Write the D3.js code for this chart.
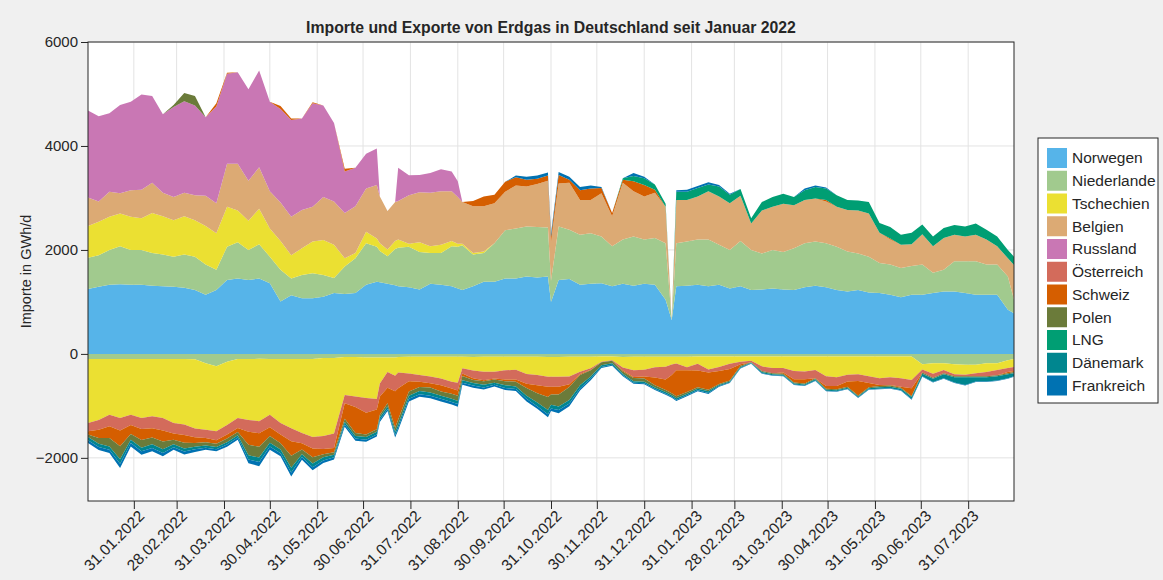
<!DOCTYPE html>
<html>
<head>
<meta charset="utf-8">
<script src="https://cdn.jsdelivr.net/npm/d3@7"></script>
<style>
  body { margin: 0; background: #f0f0f0; }
  svg text { font-family: "Liberation Sans", Arial, sans-serif; fill: #262626; }
</style>
</head>
<body>
<svg id="chart" width="1163" height="580"></svg>
<script>
// dates (weekly, plus a few extra days for sharp drops)
var dates = [
  "2022-01-01","2022-01-08","2022-01-15","2022-01-22","2022-01-29","2022-02-05","2022-02-12","2022-02-19","2022-02-26","2022-03-05",
  "2022-03-12","2022-03-19","2022-03-26","2022-04-02","2022-04-09","2022-04-16","2022-04-23","2022-04-30","2022-05-07","2022-05-14",
  "2022-05-21","2022-05-28","2022-06-04","2022-06-11","2022-06-18","2022-06-25","2022-07-02","2022-07-09","2022-07-11","2022-07-16",
  "2022-07-21","2022-07-23","2022-07-30","2022-08-06","2022-08-13","2022-08-20","2022-08-27","2022-08-31","2022-09-03","2022-09-10",
  "2022-09-17","2022-09-24","2022-10-01","2022-10-08","2022-10-15","2022-10-22","2022-10-29","2022-10-31","2022-11-05","2022-11-12",
  "2022-11-19","2022-11-26","2022-12-03","2022-12-10","2022-12-17","2022-12-24","2022-12-31","2023-01-07","2023-01-14","2023-01-18",
  "2023-01-21","2023-01-28","2023-02-04","2023-02-11","2023-02-18","2023-02-25","2023-03-04","2023-03-11","2023-03-18","2023-03-25",
  "2023-04-01","2023-04-08","2023-04-15","2023-04-22","2023-04-29","2023-05-06","2023-05-13","2023-05-20","2023-05-27","2023-06-03",
  "2023-06-10","2023-06-17","2023-06-24","2023-07-01","2023-07-08","2023-07-15","2023-07-22","2023-07-29","2023-08-05","2023-08-12",
  "2023-08-19","2023-08-26","2023-08-30"]

var countries = ["Norwegen","Niederlande","Tschechien","Belgien","Russland","Österreich","Schweiz","Polen","LNG","Dänemark","Frankreich"]
var colors = ["#56b4e9","#a1ca8e","#ebe032","#dcaa74","#c977b4","#d36b5b","#d55e00","#6b7b3a","#009e73","#00868f","#0072b2"]

// imports in GWh/d
var impNorwegen = [
  1250,1290,1330,1340,1330,1330,1310,1300,1290,1270, 1230,1140,1230,1420,1450,1420,1450,1360,1010,1130,
  1070,1070,1100,1170,1150,1170,1330,1390,1380,1350, 1320,1300,1280,1240,1350,1330,1300,1260,1230,1300,
  1390,1390,1450,1450,1490,1470,1490,1000,1420,1440, 1330,1350,1360,1300,1350,1310,1350,1330,1040,650,
  1300,1310,1330,1300,1330,1260,1300,1230,1240,1260, 1240,1230,1280,1310,1280,1230,1200,1230,1180,1170,
  1140,1090,1140,1140,1170,1200,1200,1170,1140,1140, 1140,850,780]
var impNiederlande = [
  600,610,670,730,670,670,630,610,580,640, 640,580,390,640,700,580,660,510,610,320,
  450,480,420,290,530,670,800,670,600,530, 700,740,780,720,590,610,770,800,860,610,
  550,740,930,960,960,970,940,400,1030,950, 960,970,900,770,850,950,850,900,1090,0,
  830,850,870,900,770,740,870,770,690,740, 720,800,850,850,850,830,770,700,690,580,
  580,560,550,580,390,420,580,610,640,580, 580,640,260]
var impTschechien = [
  610,640,640,630,640,610,770,740,700,740, 700,740,700,770,610,560,680,540,550,450,
  510,610,670,640,160,100,220,160,150,130, 150,160,60,190,130,160,100,60,30,30,
  30,0,0,0,0,0,0,0,0,0, 0,0,0,0,0,0,0,0,0,0,
  0,0,0,0,0,0,0,0,0,0, 0,0,0,0,0,0,0,0,0,0,
  0,0,0,0,0,0,0,0,0,0, 0,0,0]
var impBelgien = [
  550,390,480,390,510,550,580,450,450,450, 480,580,580,830,900,770,800,720,740,740,
  740,670,830,830,870,900,830,1030,900,740, 750,740,930,960,1030,1030,960,900,800,900,
  870,770,740,830,770,830,900,750,830,900, 670,640,830,580,1090,870,830,870,700,0,
  830,800,830,930,930,900,870,510,830,830, 930,830,830,830,800,770,800,830,830,580,
  480,450,420,580,510,610,510,480,510,480, 350,350,670]
var impRussland = [
  1670,1640,1510,1700,1700,1830,1670,1510,1730,1760, 1730,1510,1860,1730,1760,1760,1860,1720,1800,1860,
  1760,1990,1760,1510,800,740,670,700,0,0, 0,640,385,330,380,420,380,300,0,0,
  0,0,0,0,0,0,0,0,0,0, 0,0,0,0,0,0,0,0,0,0,
  0,0,0,0,0,0,0,0,0,0, 0,0,0,0,0,0,0,0,0,0,
  0,0,0,0,0,0,0,0,0,0, 0,0,0]
var impSchweiz = [
  0,0,0,0,0,0,0,0,0,0, 0,0,60,20,0,0,0,0,60,30,
  0,20,0,0,50,0,0,0,0,0, 0,0,0,0,0,0,0,0,0,100,
  190,160,190,160,130,100,100,100,160,60, 190,220,100,60,60,190,220,60,0,0,
  0,0,0,0,0,0,0,0,0,0, 0,0,0,0,30,0,0,0,0,0,
  20,0,0,0,0,0,0,0,0,0, 0,0,0]
var impPolen = [
  0,0,0,0,0,0,0,0,40,160, 180,0,0,0,0,0,0,0,0,0,
  0,0,0,0,0,0,0,0,0,0, 0,0,0,0,0,0,0,0,0,0,
  0,0,0,0,0,0,0,0,0,0, 0,0,0,0,0,0,0,0,0,0,
  0,0,0,0,0,0,0,0,0,0, 0,0,0,0,0,0,0,0,0,0,
  0,0,0,0,0,0,0,0,0,0, 0,0,0]
var impLNG = [
  0,0,0,0,0,0,0,0,0,0, 0,0,0,0,0,0,0,0,0,0,
  0,0,0,0,0,0,0,0,0,0, 0,0,0,0,0,0,0,0,0,0,
  0,0,0,0,0,0,0,0,0,0, 0,0,0,0,30,100,130,100,60,0,
  160,160,160,130,190,160,130,100,160,190, 190,160,190,220,220,220,190,190,220,190,
  220,190,220,190,190,190,190,190,220,190, 190,160,160]
var impFrankreich = [
  0,0,0,0,0,0,0,0,0,0, 0,0,0,0,0,0,0,0,0,0,
  0,0,0,0,0,0,0,0,0,0, 0,0,0,0,0,0,0,0,0,0,
  0,0,0,30,60,60,60,60,60,60, 60,60,20,0,0,60,30,0,0,0,
  30,40,40,40,30,20,0,0,0,0, 0,0,30,30,20,0,0,0,0,0,
  0,0,0,0,0,0,0,0,0,0, 0,0,0]

// exports in GWh/d (drawn below zero)
var expNiederlande = [
  100,100,100,100,100,100,100,100,100,100, 105,180,240,150,100,100,95,100,100,100,
  100,100,80,80,60,60,70,70,70,70, 70,60,55,55,55,55,55,55,55,60,
  55,55,55,55,55,55,60,60,60,55, 55,55,50,50,60,55,55,55,55,55,
  55,55,50,50,50,50,50,50,50,50, 50,50,50,50,50,50,50,50,50,50,
  50,50,50,200,180,180,200,210,210,180, 180,120,100]
var expTschechien = [
  1230,1170,1070,1135,1070,1135,1100,1135,1230,1260, 1330,1280,1250,1220,1135,1170,1200,1070,1230,1330,
  1420,1500,1500,1450,730,760,780,800,500,280, 350,300,320,350,380,420,480,500,220,260,
  290,290,260,250,330,350,380,380,380,380, 290,220,100,70,200,260,250,200,190,150,
  130,200,140,250,200,140,100,80,190,220, 220,280,290,260,380,400,350,340,380,420,
  400,420,450,100,200,130,190,190,160,170, 130,150,150]
var expOesterreich = [
  160,190,220,240,200,210,230,240,200,200, 170,160,170,180,190,230,230,240,220,250,
  200,220,250,280,160,200,280,200,250,300, 300,300,150,130,130,130,130,150,100,150,
  160,130,180,190,190,200,190,190,190,150, 40,30,10,10,60,130,130,200,250,200,
  130,60,130,60,80,100,50,30,90,100, 90,160,150,160,190,170,130,130,130,130,
  150,160,160,60,80,60,40,30,60,80, 100,80,80]
var expSchweiz = [
  60,160,230,300,170,210,180,210,120,150, 110,80,70,80,80,250,260,170,170,280,
  120,170,100,80,300,500,420,380,350,300, 700,600,200,100,80,120,100,100,50,30,
  20,20,30,40,80,150,200,150,150,50, 20,10,0,0,20,20,40,150,200,350,
  500,420,320,330,250,220,30,0,0,0, 20,60,80,0,50,60,100,280,80,20,
  10,20,150,0,0,0,0,0,0,0, 0,20,20]
var expPolen = [
  50,110,160,250,110,150,130,150,90,110, 70,60,60,70,60,200,210,130,120,230,
  90,120,60,50,60,60,50,50,50,60, 80,100,80,80,100,80,100,100,80,60,
  70,60,80,90,150,180,250,200,230,250, 200,120,60,50,40,60,60,40,40,40,
  40,30,30,30,20,20,20,10,20,20, 20,20,20,20,20,20,20,20,20,20,
  20,20,20,20,20,20,20,20,20,20, 20,20,20]
var expDaenemark = [
  60,60,65,90,65,70,70,70,55,60, 50,45,45,45,45,80,85,70,70,90,
  55,70,60,50,50,50,50,50,50,50, 60,60,60,60,60,60,60,60,50,50,
  50,40,50,50,60,70,80,70,70,70, 60,40,30,30,30,30,30,30,30,30,
  30,30,30,30,20,20,20,10,20,20, 20,20,20,20,20,20,20,20,20,30,
  30,30,40,50,60,80,100,150,80,80, 80,80,60]
var expFrankreich = [
  55,60,60,80,65,65,65,65,50,55, 50,40,40,40,40,75,80,65,60,80,
  50,60,50,40,40,40,40,40,40,40, 50,50,50,50,50,50,50,50,40,40,
  40,30,40,40,50,50,60,50,60,50, 40,30,20,20,20,20,20,20,20,20,
  20,20,20,20,10,10,10,10,10,10, 10,10,10,10,10,10,10,10,10,10,
  10,10,10,10,10,10,10,10,10,10, 10,10,10]

var tickLabels = ["31.01.2022","28.02.2022","31.03.2022","30.04.2022","31.05.2022","30.06.2022","31.07.2022","31.08.2022",
  "30.09.2022","31.10.2022","30.11.2022","31.12.2022","31.01.2023","28.02.2023","31.03.2023","30.04.2023","31.05.2023",
  "30.06.2023","31.07.2023"]
var yTicks = [-2000, 0, 2000, 4000, 6000]

var imports = {
  "Norwegen": impNorwegen, "Niederlande": impNiederlande, "Tschechien": impTschechien, "Belgien": impBelgien,
  "Russland": impRussland, "Schweiz": impSchweiz, "Polen": impPolen, "LNG": impLNG, "Frankreich": impFrankreich
}
var exports = {
  "Niederlande": expNiederlande, "Tschechien": expTschechien, "Österreich": expOesterreich, "Schweiz": expSchweiz,
  "Polen": expPolen, "Dänemark": expDaenemark, "Frankreich": expFrankreich
}

var parse = d3.timeParse("%Y-%m-%d")
var parseTick = d3.timeParse("%d.%m.%Y")

var posRows = dates.map(function(d, i){
  var row = {date: parse(d)}
  countries.forEach(function(c){ row[c] = imports[c] ? imports[c][i] : 0 })
  return row
})
var negRows = dates.map(function(d, i){
  var row = {date: parse(d)}
  countries.forEach(function(c){ row[c] = exports[c] ? exports[c][i] : 0 })
  return row
})

var margins = {top: 42, left: 88, right: 149, bottom: 79}
var width = 1163, height = 580
var plotW = width - margins.left - margins.right
var plotH = height - margins.top - margins.bottom

var x = d3.scaleTime().domain([parse(dates[0]), parse(dates[dates.length - 1])]).range([0, plotW])
var y = d3.scaleLinear().domain([-2830, 6000]).range([plotH, 0])
var color = d3.scaleOrdinal().domain(countries).range(colors)

var svg = d3.select("#chart")
svg.append("rect").attr("width", width).attr("height", height).attr("fill", "#f0f0f0")

var g = svg.append("g").attr("transform", "translate(" + margins.left + "," + margins.top + ")")
g.append("rect").attr("width", plotW).attr("height", plotH).attr("fill", "#fff")

g.append("clipPath").attr("id", "clip").append("rect").attr("width", plotW).attr("height", plotH)

// grid
g.append("g").selectAll("line").data(tickLabels).enter().append("line")
  .attr("x1", function(d){ return x(parseTick(d)) }).attr("x2", function(d){ return x(parseTick(d)) })
  .attr("y1", 0).attr("y2", plotH)
  .attr("stroke", "#e3e3e3")
g.append("g").selectAll("line").data(yTicks).enter().append("line")
  .attr("x1", 0).attr("x2", plotW)
  .attr("y1", function(d){ return y(d) }).attr("y2", function(d){ return y(d) })
  .attr("stroke", "#e3e3e3")

// both stacks are built from positive values; exports are mirrored below zero
var posStack = d3.stack().keys(countries)(posRows)
var negStack = d3.stack().keys(countries)(negRows)

var area = d3.area()
  .x(function(d){ return x(d.data.date) })
  .y0(function(d){ return y(d[0]) })
  .y1(function(d){ return y(d[1]) })
var areaDown = d3.area()
  .x(function(d){ return x(d.data.date) })
  .y0(function(d){ return y(-d[0]) })
  .y1(function(d){ return y(-d[1]) })

var layers = g.append("g").attr("clip-path", "url(#clip)")
layers.selectAll(".neg").data(negStack).enter().append("path")
  .attr("class", "neg")
  .attr("d", areaDown)
  .attr("fill", function(d){ return color(d.key) })
layers.selectAll(".pos").data(posStack).enter().append("path")
  .attr("class", "pos")
  .attr("d", area)
  .attr("fill", function(d){ return color(d.key) })

// outline of the import total
var top = posStack[posStack.length - 1]
layers.append("path")
  .datum(top)
  .attr("d", d3.line().x(function(d){ return x(d.data.date) }).y(function(d){ return y(d[1]) }))
  .attr("fill", "none")
  .attr("stroke", "#7d7d7d")
  .attr("stroke-width", 1)

// axes box
g.append("rect").attr("width", plotW).attr("height", plotH)
  .attr("fill", "none").attr("stroke", "#262626").attr("stroke-width", 1)

var yAxis = g.append("g").call(d3.axisLeft(y).tickValues(yTicks).tickSize(7).tickSizeOuter(0).tickFormat(d3.format("d")))
yAxis.select(".domain").remove()
yAxis.selectAll("line").attr("stroke", "#262626")
yAxis.selectAll("text").attr("font-size", 15).attr("x", -10)

var xAxis = g.append("g").attr("transform", "translate(0," + plotH + ")")
  .call(d3.axisBottom(x).tickValues(tickLabels.map(parseTick)).tickSize(8).tickSizeOuter(0).tickFormat(d3.timeFormat("%d.%m.%Y")))
xAxis.select(".domain").remove()
xAxis.selectAll("line").attr("stroke", "#262626")
xAxis.selectAll("text")
  .attr("font-size", 15.5)
  .attr("text-anchor", "end")
  .attr("dy", 0)
  .attr("transform", "translate(11,16) rotate(-45)")
  .attr("y", 0).attr("x", 0)

svg.append("text")
  .attr("x", margins.left + plotW / 2).attr("y", 33)
  .attr("text-anchor", "middle").attr("font-size", 15.8).attr("font-weight", "bold")
  .text("Importe und Exporte von Erdgas in Deutschland seit Januar 2022")

svg.append("text")
  .attr("transform", "translate(31," + (margins.top + plotH / 2) + ") rotate(-90)")
  .attr("text-anchor", "middle").attr("font-size", 14.5)
  .text("Importe in GWh/d")

// legend
var legend = svg.append("g").attr("transform", "translate(1038,138)")
legend.append("rect").attr("width", 120).attr("height", 265)
  .attr("fill", "#fff").attr("stroke", "#262626")
var items = legend.selectAll(".item").data(countries).enter().append("g")
  .attr("transform", function(d, i){ return "translate(9," + (10 + i * 22.75) + ")" })
items.append("rect").attr("width", 20).attr("height", 20).attr("fill", function(d){ return color(d) })
items.append("text").attr("x", 25).attr("y", 10).attr("dy", "0.35em").attr("font-size", 15.5).text(function(d){ return d })
</script>
</body>
</html>
